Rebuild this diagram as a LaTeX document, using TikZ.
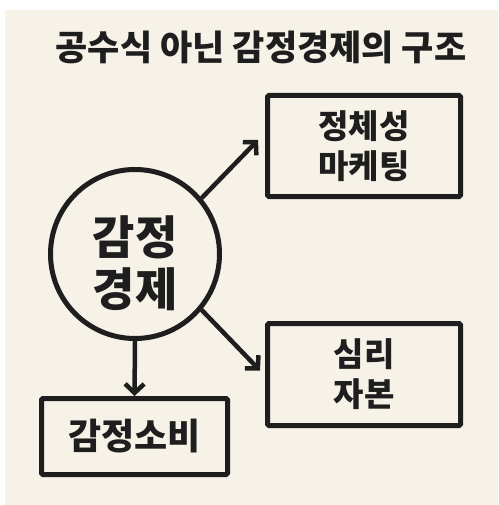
\documentclass[tikz,border=0pt]{standalone}
\usepackage{fontspec}
\newfontfamily\kr{Noto Sans CJK KR}[BoldFont={Noto Sans CJK KR Black}]
\usetikzlibrary{arrows.meta}
\definecolor{cream}{HTML}{F6F2E8}
\definecolor{ink}{HTML}{1E1E1E}
\tikzset{
  box/.style={draw=ink, line width=5pt, rounded corners=1.5pt, minimum width=193pt, inner sep=0pt, align=center, font=\kr\bfseries\fontsize{33}{40}\selectfont, text=ink},
  hub/.style={draw=ink, circle, line width=5pt, minimum size=169pt, inner sep=0pt},
  hubtext/.style={inner sep=0pt, align=center, font=\kr\bfseries\fontsize{46}{52}\selectfont, text=ink},
  conn/.style={draw=ink, line width=4.5pt, -{Straight Barb[length=9pt, width=19pt, line width=4.5pt]}},
  ttl/.style={font=\kr\bfseries\fontsize{35}{40}\selectfont, text=ink}
}
\begin{document}
\begin{tikzpicture}[x=1pt, y=-1pt]
\useasboundingbox (0,0) rectangle (498,505);
\fill[white] (0,0) rectangle (498,505);
\fill[cream] (5,10) rectangle (498,505);
\node[ttl] (title) at (261,47) {공수식 아닌 감정경제의 구조};
\node[hub] (c) at (135,254) {};
\node[hubtext] (ct) at (135,263) {감정\\경제};
\node[box, minimum height=101pt] (tb) at (364,146) {정체성\\마케팅};
\node[box, minimum height=102pt] (rb) at (364,374.5) {심리\\자본};
\node[box, minimum width=186pt, minimum height=76pt, font=\kr\bfseries\fontsize{36}{40}\selectfont] (lb) at (134.5,436.5) {감정소비};
\draw[conn] (c.40) -- ([xshift=-7pt, yshift=6pt]tb.west);
\draw[conn] (c.-40) -- ([xshift=-5pt, yshift=4pt]rb.west);
\draw[conn] (c.south) -- (lb.north);
\end{tikzpicture}
\end{document}
